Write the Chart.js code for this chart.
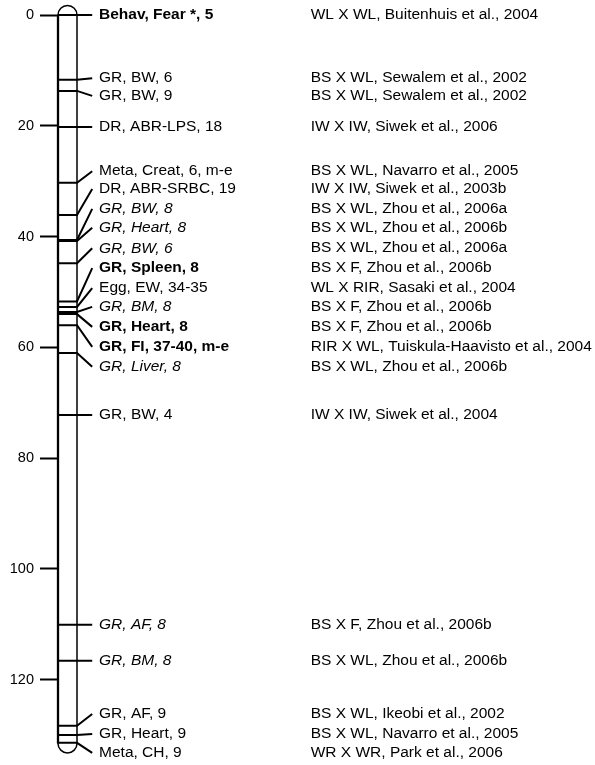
<!DOCTYPE html>
<html lang="en">
<head>
<meta charset="UTF-8">
<title>QTL map</title>
<script src="https://cdn.jsdelivr.net/npm/chart.js"></script>
<style>
  html, body { margin: 0; padding: 0; background: #fff; }
</style>
</head>
<body>
<canvas id="map" width="595" height="765"></canvas>
<script>
// QTL positions along the chromosome (cM)
const qtlPos   = [0, 11.7, 13.7, 20.2, 30.3, 36.1, 40.6, 40.8, 44.8, 51.7, 52.7, 53.6, 54.0, 56.0, 61.0, 72.2, 110.1, 116.6, 128.3, 130.0, 131.4];
// where each label is placed along the map (cM)
const labelPos = [0, 11.4, 14.6, 20.2, 28.2, 31.4, 35.0, 38.4, 42.1, 45.7, 49.3, 52.7, 56.3, 59.9, 63.5, 72.2, 110.1, 116.6, 126.2, 129.8, 133.2];
const traits = [
  'Behav, Fear *, 5', 'GR, BW, 6', 'GR, BW, 9', 'DR, ABR-LPS, 18', 'Meta, Creat, 6, m-e',
  'DR, ABR-SRBC, 19', 'GR, BW, 8', 'GR, Heart, 8', 'GR, BW, 6', 'GR, Spleen, 8',
  'Egg, EW, 34-35', 'GR, BM, 8', 'GR, Heart, 8', 'GR, FI, 37-40, m-e', 'GR, Liver, 8',
  'GR, BW, 4', 'GR, AF, 8', 'GR, BM, 8', 'GR, AF, 9', 'GR, Heart, 9', 'Meta, CH, 9'
];
const crosses = [
  'WL X WL, Buitenhuis et al., 2004', 'BS X WL, Sewalem et al., 2002', 'BS X WL, Sewalem et al., 2002',
  'IW X IW, Siwek et al., 2006', 'BS X WL, Navarro et al., 2005', 'IW X IW, Siwek et al., 2003b',
  'BS X WL, Zhou et al., 2006a', 'BS X WL, Zhou et al., 2006b', 'BS X WL, Zhou et al., 2006a',
  'BS X F, Zhou et al., 2006b', 'WL X RIR, Sasaki et al., 2004', 'BS X F, Zhou et al., 2006b',
  'BS X F, Zhou et al., 2006b', 'RIR X WL, Tuiskula-Haavisto et al., 2004', 'BS X WL, Zhou et al., 2006b',
  'IW X IW, Siwek et al., 2004', 'BS X F, Zhou et al., 2006b', 'BS X WL, Zhou et al., 2006b',
  'BS X WL, Ikeobi et al., 2002', 'BS X WL, Navarro et al., 2005', 'WR X WR, Park et al., 2006'
];
// g = genome-wide (bold), c = chromosome-wide, s = suggestive (italic)
const signif = ['g', 'c', 'c', 'c', 'c', 'c', 's', 's', 's', 'g', 'c', 's', 'g', 'g', 's', 'c', 's', 's', 'c', 'c', 'c'];
const yTicks = [0, 20, 40, 60, 80, 100, 120];
const mapEnd = 131.5;

const FONT = '"Liberation Sans", Arial, sans-serif';

// x units: 1 = chromosome width
const chromosome = {
  id: 'chromosome',
  beforeDatasetsDraw(chart) {
    const { ctx, scales: { x, y } } = chart;
    const l = x.getPixelForValue(0), r = x.getPixelForValue(1);
    const rad = (r - l) / 2, cx = (l + r) / 2;
    const top = y.getPixelForValue(0), bot = y.getPixelForValue(mapEnd);
    ctx.save();
    ctx.beginPath();
    ctx.moveTo(l, bot);
    ctx.lineTo(l, top);
    ctx.arc(cx, top, rad, Math.PI, 0);
    ctx.lineTo(r, bot);
    ctx.arc(cx, bot, rad, 0, Math.PI);
    ctx.closePath();
    ctx.fillStyle = '#fff';
    ctx.fill();
    ctx.strokeStyle = '#000';
    ctx.lineWidth = 1.5;
    ctx.stroke();
    ctx.lineWidth = 2.3;
    ctx.beginPath();
    ctx.moveTo(l, top);
    ctx.lineTo(l, bot);
    ctx.stroke();
    ctx.restore();
  }
};

const labels = {
  id: 'labels',
  afterDatasetsDraw(chart) {
    const { ctx, scales: { x, y } } = chart;
    ctx.save();
    ctx.fillStyle = '#000';
    ctx.textBaseline = 'middle';
    ctx.textAlign = 'left';
    traits.forEach((t, i) => {
      const yy = y.getPixelForValue(labelPos[i]);
      const st = signif[i] === 'g' ? 'bold ' : signif[i] === 's' ? 'italic ' : '';
      ctx.font = st + '15.5px ' + FONT;
      ctx.fillText(t, x.getPixelForValue(2.16), yy);
      ctx.font = '15.5px ' + FONT;
      ctx.fillText(crosses[i], x.getPixelForValue(13.3), yy);
    });
    ctx.restore();
  }
};

const datasets = qtlPos.map((p, i) => ({
  data: [{ x: 0, y: p }, { x: 1, y: p }, { x: 1.8, y: labelPos[i] }],
  borderColor: '#000',
  borderWidth: 2,
  pointRadius: 0,
  showLine: true,
  fill: false,
  clip: false
}));

new Chart(document.getElementById('map'), {
  type: 'scatter',
  data: { datasets },
  options: {
    responsive: false,
    animation: false,
    layout: { padding: 0 },
    plugins: { legend: { display: false }, tooltip: { enabled: false } },
    scales: {
      x: { type: 'linear', display: false, min: 0, max: 537 / 19 },
      y: {
        type: 'linear',
        reverse: true,
        min: -2.71,
        max: 135.4,
        afterBuildTicks: s => { s.ticks = yTicks.map(v => ({ value: v })); },
        afterFit: s => { s.width = 58; s.paddingTop = 0; s.paddingBottom = 0; },
        border: { display: false },
        grid: { drawOnChartArea: false, drawTicks: true, tickLength: 18, tickColor: '#000', tickWidth: 2 },
        ticks: { color: '#000', padding: 6, font: { family: FONT, size: 14.5 } }
      }
    }
  },
  plugins: [chromosome, labels]
});
</script>
</body>
</html>
